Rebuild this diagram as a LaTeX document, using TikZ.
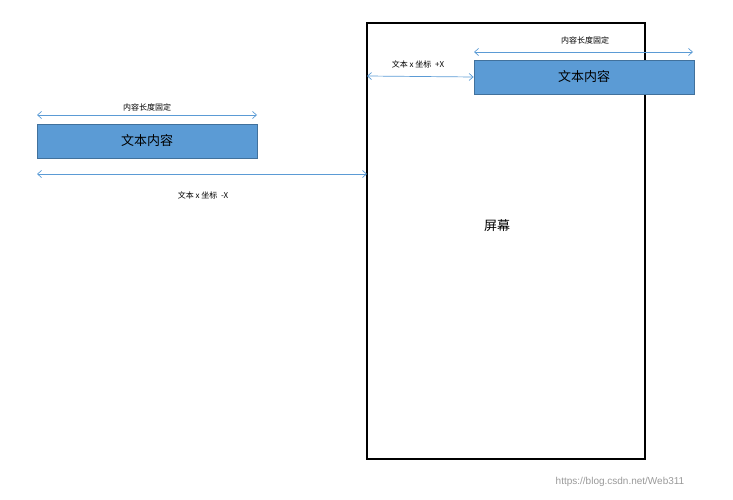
\documentclass[tikz,border=0pt]{standalone}
\usepackage{fontspec}
\setmainfont{Liberation Sans}
\newfontfamily\cjk{Noto Sans CJK SC}
\usetikzlibrary{arrows.meta}
\definecolor{boxfill}{HTML}{5B9BD5}
\definecolor{boxline}{HTML}{41719C}
\definecolor{arr}{HTML}{5B9BD5}
\begin{document}
\begin{tikzpicture}[x=1pt,y=-1pt,
  textbox/.style={draw=boxline,fill=boxfill,line width=0.8pt,minimum width=220pt,minimum height=34pt,inner sep=0pt,font=\cjk\fontsize{13}{13}\selectfont},
  dim/.style={draw=arr,line width=0.7pt,{Straight Barb[length=4pt,width=7pt]}-{Straight Barb[length=4pt,width=7pt]}},
  lab/.style={font=\cjk\fontsize{8}{8}\selectfont,inner sep=1pt}]
\useasboundingbox (0,0) rectangle (733,500);
\node[draw=black,line width=1.5pt,minimum width=278pt,minimum height=436pt,inner sep=0pt] (screen) at (506,241) {};
\node[font=\cjk\fontsize{13}{13}\selectfont] (scrlab) at (497,226) {屏幕};
\node[textbox] (tb) at (584,77) {文本内容};
\node[textbox] (lb) at (147,141) {文本内容};
\coordinate (t1) at (474,52); \coordinate (t2) at (693,52);
\draw[dim] (t1) -- (t2);
\node[lab] (tl) at (585,40) {内容长度固定};
\coordinate (p1) at (367,76);
\draw[dim] (p1) -- (tb.west);
\node[lab] (pl) at (418,64) {文本 x 坐标 \ +X};
\coordinate (l1) at (37,115); \coordinate (l2) at (257,115);
\draw[dim] (l1) -- (l2);
\node[lab] (ll) at (147,107) {内容长度固定};
\coordinate (m1) at (37,174); \coordinate (m2) at (367,174);
\draw[dim] (m1) -- (m2);
\node[lab] (ml) at (203,195) {文本 x 坐标 \ -X};
\node[font=\fontsize{10}{10}\selectfont,text=black!40] (wm) at (620,482) {https://blog.csdn.net/Web311};
\end{tikzpicture}
\end{document}
